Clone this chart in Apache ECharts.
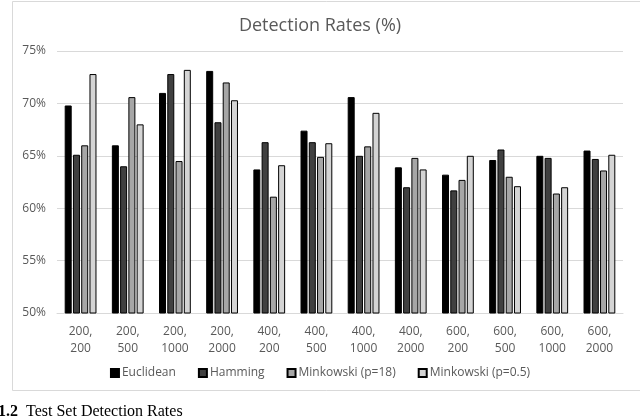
<!DOCTYPE html>
<html>
<head>
<meta charset="utf-8">
<script src="https://cdn.jsdelivr.net/npm/echarts@6/dist/echarts.min.js"></script>
<style>
  html, body { margin: 0; padding: 0; background: #fff; }
  #chart { width: 640px; height: 418px; }
</style>
</head>
<body>
<div id="chart"></div>
<script>
// categories: (a, b) parameter pairs
const categories = [
  '200,\n200', '200,\n500', '200,\n1000', '200,\n2000',
  '400,\n200', '400,\n500', '400,\n1000', '400,\n2000',
  '600,\n200', '600,\n500', '600,\n1000', '600,\n2000'
];
const seriesNames = ['Euclidean', 'Hamming', 'Minkowski (p=18)', 'Minkowski (p=0.5)'];
const euclidean = [69.8, 66.0, 71.0, 73.1, 63.7, 67.4, 70.6, 63.9, 63.2, 64.6, 65.0, 65.5];
const hamming   = [65.1, 64.0, 72.8, 68.2, 66.3, 66.3, 65.0, 62.0, 61.7, 65.6, 64.8, 64.7];
const mink18    = [66.0, 70.6, 64.5, 72.0, 61.1, 64.9, 65.9, 64.8, 62.7, 63.0, 61.4, 63.6];
const mink05    = [72.8, 68.0, 73.2, 70.3, 64.1, 66.2, 69.1, 63.7, 65.0, 62.1, 62.0, 65.1];
const yTicks = [50, 55, 60, 65, 70, 75];

const colors = ['#000000', '#404040', '#a6a6a6', '#d4d4d4'];
const allValues = [euclidean, hamming, mink18, mink05];

const chart = echarts.init(document.getElementById('chart'));

const series = allValues.map(function (vals, i) {
  return {
    name: seriesNames[i],
    type: 'bar',
    data: vals,
    barWidth: 7,
    barGap: '18%',
    itemStyle: {
      color: colors[i],
      borderColor: '#000',
      borderWidth: 1
    }
  };
});

const option = {
  animation: false,
  backgroundColor: '#fff',
  title: {
    text: 'Detection Rates (%)',
    left: 'center',
    top: 12,
    textStyle: {
      fontFamily: 'Open Sans',
      fontSize: 18,
      fontWeight: 'normal',
      color: '#595959'
    }
  },
  legend: {
    data: seriesNames,
    bottom: 34,
    left: 'center',
    itemWidth: 8,
    itemHeight: 8,
    itemGap: 22,
    icon: 'rect',
    textStyle: {
      fontFamily: 'Open Sans',
      fontSize: 12,
      color: '#595959',
      padding: [0, 0, 0, -2]
    }
  },
  grid: {
    left: 57,
    right: 17,
    top: 51,
    bottom: 105
  },
  xAxis: {
    type: 'category',
    data: categories,
    axisLine: { lineStyle: { color: '#d9d9d9' } },
    axisTick: { show: false },
    axisLabel: {
      interval: 0,
      margin: 10,
      fontFamily: 'Open Sans',
      fontSize: 12,
      lineHeight: 17,
      color: '#595959'
    }
  },
  yAxis: {
    type: 'value',
    min: yTicks[0],
    max: yTicks[yTicks.length - 1],
    interval: 5,
    axisLine: { show: false },
    axisTick: { show: false },
    splitLine: { lineStyle: { color: '#d9d9d9' } },
    axisLabel: {
      formatter: '{value}%',
      margin: 11,
      fontFamily: 'Open Sans',
      fontSize: 12,
      color: '#595959'
    }
  },
  graphic: [
    {
      type: 'rect',
      shape: { x: 12.5, y: 1.5, width: 700, height: 389 },
      style: { fill: 'none', stroke: '#d9d9d9', lineWidth: 1 },
      silent: true
    },
    {
      type: 'text',
      left: -2,
      top: 404,
      style: {
        text: '{b|1.2}  Test Set Detection Rates',
        fontFamily: 'Liberation Serif',
        fontSize: 16,
        fill: '#000',
        rich: {
          b: { fontFamily: 'Liberation Serif', fontSize: 16, fontWeight: 'bold', fill: '#000' }
        }
      }
    }
  ],
  series: series
};

chart.setOption(option);
</script>
</body>
</html>
